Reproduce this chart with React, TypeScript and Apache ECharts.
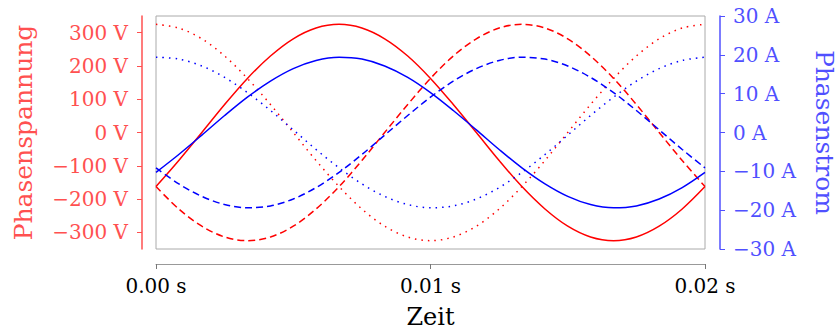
import React, { useEffect, useRef } from "react";
import * as echarts from "echarts";

// time samples (s)
const time = [0, 0.00083, 0.00167, 0.0025, 0.00333, 0.00417, 0.005, 0.00583, 0.00667, 0.0075, 0.00833, 0.00917, 0.01, 0.01083, 0.01167, 0.0125, 0.01333, 0.01417, 0.015, 0.01583, 0.01667, 0.0175, 0.01833, 0.01917, 0.02];

// phase voltages (V)
const voltage1 = [-162.5, -84.1, 0, 84.1, 162.5, 229.8, 281.5, 313.9, 325, 313.9, 281.5, 229.8, 162.5, 84.1, 0, -84.1, -162.5, -229.8, -281.5, -313.9, -325, -313.9, -281.5, -229.8, -162.5];
const voltage2 = [-162.5, -229.8, -281.5, -313.9, -325, -313.9, -281.5, -229.8, -162.5, -84.1, 0, 84.1, 162.5, 229.8, 281.5, 313.9, 325, 313.9, 281.5, 229.8, 162.5, 84.1, 0, -84.1, -162.5];
const voltage3 = [325, 313.9, 281.5, 229.8, 162.5, 84.1, 0, -84.1, -162.5, -229.8, -281.5, -313.9, -325, -313.9, -281.5, -229.8, -162.5, -84.1, 0, 84.1, 162.5, 229.8, 281.5, 313.9, 325];

// phase currents (A)
const current1 = [-10.28, -5.67, -0.68, 4.37, 9.11, 13.23, 16.45, 18.55, 19.39, 18.9, 17.13, 14.19, 10.28, 5.67, 0.68, -4.37, -9.11, -13.23, -16.45, -18.55, -19.39, -18.9, -17.13, -14.19, -10.28];
const current2 = [-9.11, -13.23, -16.45, -18.55, -19.39, -18.9, -17.13, -14.19, -10.28, -5.67, -0.68, 4.37, 9.11, 13.23, 16.45, 18.55, 19.39, 18.9, 17.13, 14.19, 10.28, 5.67, 0.68, -4.37, -9.11];
const current3 = [19.39, 18.9, 17.13, 14.19, 10.28, 5.67, 0.68, -4.37, -9.11, -13.23, -16.45, -18.55, -19.39, -18.9, -17.13, -14.19, -10.28, -5.67, -0.68, 4.37, 9.11, 13.23, 16.45, 18.55, 19.39];

// tick values
const voltageTicks = [-300, -200, -100, 0, 100, 200, 300];
const xTicks = [0, 0.01, 0.02];

const RED = "#ff0000";
const BLUE = "#0000ff";
const RED_AXIS = "#ff5050";
const BLUE_AXIS = "#5050ff";
const FONT = "DejaVu Serif";

const minus = (s: string) => s.replace("-", "\u2212");

export default function App() {
  const ref = useRef<HTMLDivElement>(null);
  useEffect(() => {
    if (!ref.current) return;
    const chart = echarts.init(ref.current, null, { renderer: "svg" });
    const pairs = (ys: number[]) => time.map((t, i) => [t, ys[i]]);
    const line = (name: string, ys: number[], color: string, type: any, yAxisIndex: number) => ({
      name,
      type: "line",
      data: pairs(ys),
      yAxisIndex,
      smooth: 0.33,
      showSymbol: false,
      symbol: "none",
      lineStyle: { color, width: 1.5, type },
    });
    chart.setOption({
      animation: false,
      grid: {
        left: 156,
        right: 135,
        top: 16,
        bottom: 82,
        show: true,
        borderColor: "#aaaaaa",
        borderWidth: 1,
        containLabel: false,
        outerBoundsMode: "none",
      },
      xAxis: {
        type: "value",
        min: 0,
        max: 0.02,
        interval: 0.01,
        offset: 15,
        axisLine: { show: true, onZero: false, lineStyle: { color: "#999999", width: 1 } },
        axisTick: { show: true, length: 5, lineStyle: { color: "#777777" }, customValues: xTicks },
        axisLabel: {
          customValues: xTicks,
          formatter: (v: number) => v.toFixed(2) + " s",
          color: "#000",
          fontFamily: FONT,
          fontSize: 20,
          margin: 12,
        },
        splitLine: { show: false },
        name: "Zeit",
        nameLocation: "middle",
        nameGap: 41,
        nameTextStyle: { color: "#000", fontFamily: FONT, fontSize: 24 },
      },
      yAxis: [
        {
          type: "value",
          position: "left",
          min: -350,
          max: 350,
          offset: 14,
          axisLine: { show: true, onZero: false, lineStyle: { color: RED_AXIS, width: 1.5 } },
          axisTick: { show: true, length: 5, customValues: voltageTicks, lineStyle: { color: RED_AXIS } },
          axisLabel: {
            customValues: voltageTicks,
            formatter: (v: number) => minus(String(v)) + " V",
            color: RED_AXIS,
            fontFamily: FONT,
            fontSize: 20,
            margin: 14,
          },
          splitLine: { show: false },
          name: "Phasenspannung",
          nameLocation: "middle",
          nameRotate: 90,
          nameGap: 106,
          nameTextStyle: { color: RED_AXIS, fontFamily: FONT, fontSize: 25 },
        },
        {
          type: "value",
          position: "right",
          min: -30,
          max: 30,
          interval: 10,
          offset: 15,
          axisLine: { show: true, onZero: false, lineStyle: { color: BLUE_AXIS, width: 1.5 } },
          axisTick: { show: true, length: 5, lineStyle: { color: BLUE_AXIS } },
          axisLabel: {
            formatter: (v: number) => minus(String(v)) + " A",
            color: BLUE_AXIS,
            fontFamily: FONT,
            fontSize: 20,
            margin: 13,
          },
          splitLine: { show: false },
          name: "Phasenstrom",
          nameLocation: "middle",
          nameRotate: -90,
          nameGap: 92,
          nameTextStyle: { color: BLUE_AXIS, fontFamily: FONT, fontSize: 25 },
        },
      ],
      series: [
        line("U1", voltage1, RED, "solid", 0),
        line("U2", voltage2, RED, [7, 4], 0),
        line("U3", voltage3, RED, [1.5, 5], 0),
        line("I1", current1, BLUE, "solid", 1),
        line("I2", current2, BLUE, [7, 4], 1),
        line("I3", current3, BLUE, [1.5, 5], 1),
      ],
    });
    return () => chart.dispose();
  }, []);
  return <div ref={ref} style={{ width: 840, height: 331, position: "absolute", left: 0, top: 0 }} />;
}
